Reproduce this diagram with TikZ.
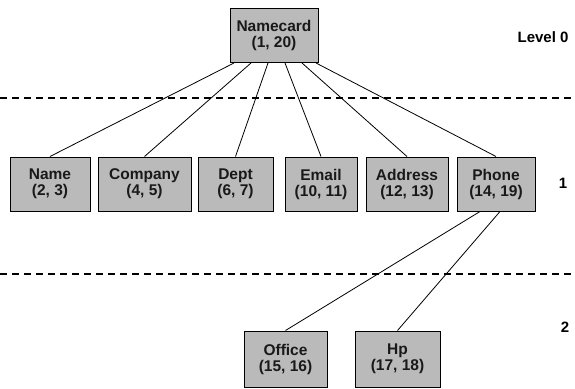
\documentclass[tikz,border=0pt]{standalone}
\usepackage{fontspec}
\setmainfont{Liberation Sans}
\begin{document}
\begin{tikzpicture}[x=1pt,y=-1pt,
  box/.style={draw=black, line width=1pt, fill=black!27, text=black!90,
    font=\bfseries\fontsize{15.5}{16}\selectfont, align=center, inner sep=2pt,
    minimum height=54pt},
  link/.style={line width=0.8pt},
  sep/.style={line width=1.4pt, dash pattern=on 7pt off 5pt},
  lvl/.style={font=\bfseries\fontsize{15}{17}\selectfont}]
\useasboundingbox (0,0) rectangle (575,388);
\node[box, minimum width=88pt] (root) at (274,35.5) {Namecard\\(1, 20)};
\node[box, minimum width=80pt] (name) at (50,184) {Name\\(2, 3)};
\node[box, minimum width=93pt] (comp) at (144.5,184) {Company\\(4, 5)};
\node[box, minimum width=75pt] (dept) at (235.5,184) {Dept\\(6, 7)};
\node[box, minimum width=72pt] (email) at (321,184) {Email\\(10, 11)};
\node[box, minimum width=82pt] (addr) at (407,184) {Address\\(12, 13)};
\node[box, minimum width=78pt] (phone) at (496,184) {Phone\\(14, 19)};
\node[box, minimum width=83pt, minimum height=56pt] (office) at (285.5,359) {Office\\(15, 16)};
\node[box, minimum width=85pt, minimum height=56pt] (hp) at (397.5,359) {Hp\\(17, 18)};
\draw[link] ([xshift=-40pt]root.south) -- (name.north);
\draw[link] ([xshift=-23pt]root.south) -- (comp.north);
\draw[link] ([xshift=-6pt]root.south) -- (dept.north);
\draw[link] ([xshift=11pt]root.south) -- (email.north);
\draw[link] ([xshift=28pt]root.south) -- (addr.north);
\draw[link] ([xshift=42pt]root.south) -- (phone.north);
\draw[link] ([xshift=-16pt]phone.south) -- (office.north);
\draw[link] ([xshift=4pt]phone.south) -- (hp.north);
\draw[sep] (0,98) -- (575,98);
\draw[sep] (0,274) -- (575,274);
\node[lvl, anchor=east] (l0) at (572,37) {Level 0};
\node[lvl] (l1) at (563,183) {1};
\node[lvl] (l2) at (565,327) {2};
\end{tikzpicture}
\end{document}
